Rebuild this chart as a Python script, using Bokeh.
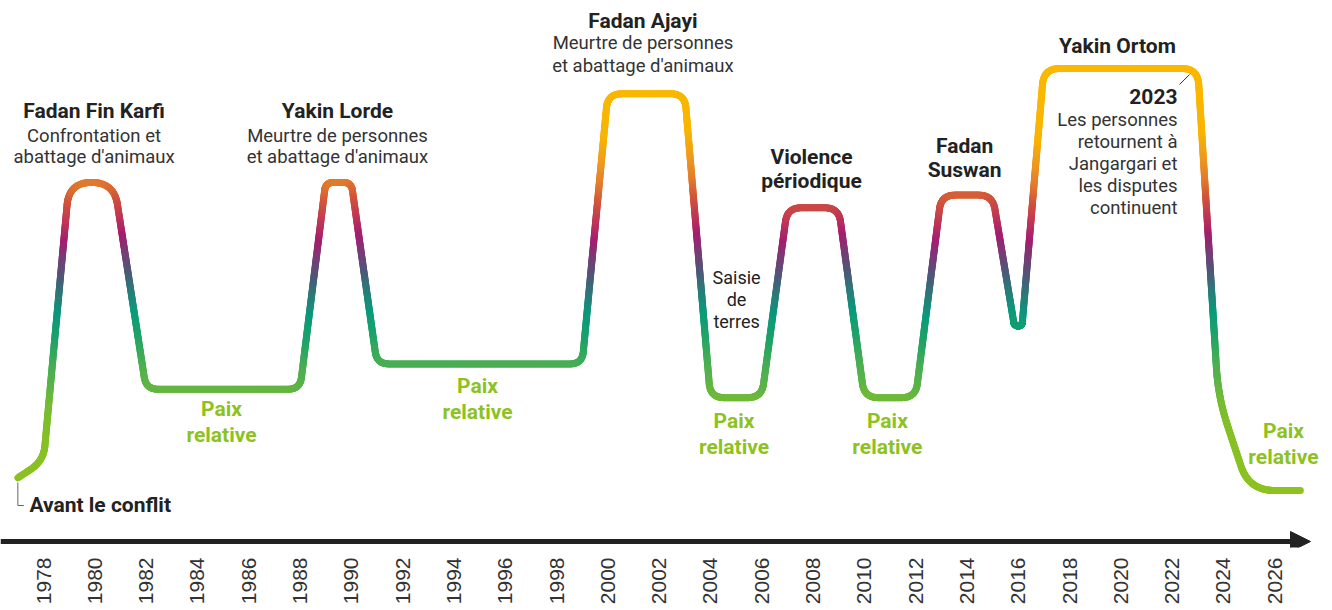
import numpy as np
from bokeh.plotting import figure
from bokeh.models import FixedTicker, Arrow, NormalHead, Range1d
from bokeh.embed import file_html
from bokeh.resources import INLINE
from bokeh.core.properties import value

# ---------------- data ----------------
years = [1977, 1978, 1979, 1980.75, 1982, 1988, 1989, 1990, 1991, 1999, 2000, 2003,
         2004, 2006, 2007, 2009, 2010, 2012, 2013, 2015, 2015.85, 2016.15, 2017, 2023, 2023.8, 2025, 2027]
levels = [3, 7, 73, 73, 24, 24, 73, 73, 30, 30, 94, 94,
          22, 22, 67, 67, 22, 22, 70, 70, 39, 39, 100, 100, 22, 0, 0]
tick_years = list(range(1978, 2027, 2))

titles = ["Fadan Fin Karfi", "Yakin Lorde", "Fadan Ajayi", "Violence\npériodique",
          "Fadan\nSuswan", "Yakin Ortom"]
subtitles = ["Confrontation et\nabattage d'animaux", "Meurtre de personnes\net abattage d'animaux",
             "Meurtre de personnes\net abattage d'animaux", "", "", ""]
side_note = "Saisie\nde\nterres"
note_2023_title = "2023"
note_2023_text = "Les personnes\nretournent à\nJangargari et\nles disputes\ncontinuent"
peace_label = "Paix\nrelative"
start_label = "Avant le conflit"

# ---------------- layout / style ----------------
W, H = 1332, 610
PXY = 25.65      # px per year
PXL = 4.22       # px per level unit
FRAME_H = 547
x0 = 1978 - 43 / PXY
x1 = x0 + W / PXY
y1 = 100 + 68 / PXL
y0 = y1 - FRAME_H / PXL
AXIS_LEVEL = y0 + 6 / PXL
TEXT_SHIFT = -7

corner_r = [0, 28, 24, 24, 12, 12, 8, 8, 12, 12, 14, 14, 14, 14, 14, 14, 14, 14, 14, 14,
            5, 5, 16, 16, 30, 28, 0]

stops = [(0, "#8DC21F"), (14, "#84C025"), (21, "#74BC33"), (25, "#5DB446"), (30, "#48AE52"),
         (36, "#1FA366"), (42, "#089A7B"), (47, "#2A7A7A"), (51, "#4A5A78"), (56, "#7A3A76"),
         (60, "#A51C70"), (65, "#C23A52"), (69, "#D2543A"), (73, "#E17A2C"), (78, "#EE9820"),
         (84, "#F8B400"), (100, "#FBB800")]


def hex2rgb(h):
    h = h.lstrip("#")
    return [int(h[i:i + 2], 16) for i in (0, 2, 4)]


stop_lv = np.array([s[0] for s in stops], float)
stop_rgb = np.array([hex2rgb(s[1]) for s in stops], float)


def color_at(lv):
    r, g, b = (np.interp(lv, stop_lv, stop_rgb[:, k]) for k in range(3))
    return "#%02x%02x%02x" % (int(round(r)), int(round(g)), int(round(b)))


# rounded path in isotropic pixel space
P = np.column_stack([np.array(years, float) * PXY, np.array(levels, float) * PXL])
pts = [P[0]]
for i in range(1, len(P) - 1):
    a, b, c = P[i - 1], P[i], P[i + 1]
    d1 = np.linalg.norm(b - a)
    d2 = np.linalg.norm(c - b)
    r = min(corner_r[i], d1 / 2, d2 / 2)
    p0 = b + (a - b) / d1 * r
    p2 = b + (c - b) / d2 * r
    t = np.linspace(0, 1, 20)[:, None]
    q = (1 - t) ** 2 * p0 + 2 * (1 - t) * t * b + t ** 2 * p2
    pts.extend(list(q))
pts.append(P[-1])
pts = np.array(pts)
fine = [pts[0]]
for i in range(1, len(pts)):
    a, b = pts[i - 1], pts[i]
    d = np.linalg.norm(b - a)
    n = max(1, int(np.ceil(d / 2.0)))
    for k in range(1, n + 1):
        fine.append(a + (b - a) * k / n)
fine = np.array(fine)
fx = fine[:, 0] / PXY
fy = fine[:, 1] / PXL
sx0, sx1 = fx[:-1], fx[1:]
sy0, sy1 = fy[:-1], fy[1:]
scol = [color_at((u + v) / 2) for u, v in zip(sy0, sy1)]

p = figure(width=W, height=H, output_backend="svg", toolbar_location=None,
           x_range=Range1d(x0, x1), y_range=Range1d(y0, y1), y_axis_location=None,
           min_border_left=0, min_border_right=0, min_border_top=0, min_border_bottom=H - FRAME_H,
           background_fill_color="white", border_fill_color="white", outline_line_color=None)
p.xgrid.visible = False
p.ygrid.visible = False

ax = p.xaxis[0]
ax.ticker = FixedTicker(ticks=tick_years)
ax.axis_line_color = None
ax.major_tick_line_color = None
ax.minor_tick_line_color = None
ax.major_tick_out = 0
ax.major_tick_in = 0
ax.minor_tick_out = 0
ax.major_label_orientation = np.pi / 2
ax.major_label_standoff = 10
ax.major_label_text_font = "Liberation Sans"
ax.major_label_text_font_size = "21px"
ax.major_label_text_color = "#333333"

# timeline arrow
p.add_layout(Arrow(end=NormalHead(size=20, fill_color="#222222", line_color="#222222"),
                   x_start=x0, y_start=AXIS_LEVEL, x_end=1978 + 1267 / PXY, y_end=AXIS_LEVEL,
                   line_width=5, line_color="#222222"))

# gradient curve
p.segment(x0=sx0, y0=sy0, x1=sx1, y1=sy1, line_color=scol, line_width=7, line_cap="round")

# ---------------- texts ----------------
T = dict(x=[], y=[], text=[], size=[], style=[], color=[], align=[], yoff=[])


def block(x, y, txt, size, style, color, align="center", spacing=22):
    for i, line in enumerate(txt.split("\n")):
        T["x"].append(x); T["y"].append(y); T["text"].append(line)
        T["size"].append(size); T["style"].append(style); T["color"].append(color)
        T["align"].append(align); T["yoff"].append(i * spacing + TEXT_SHIFT)


def lv(ypage):
    return (490 - ypage) / PXL


title_pos = [(1979.97, 117), (1989.46, 117), (2001.37, 27), (2007.94, 163), (2013.91, 152), (2019.87, 52)]
sub_pos = [(1979.97, 142, 21), (1989.46, 142, 21), (2001.37, 49, 23)]
for i, t in enumerate(titles):
    xx, yy = title_pos[i]
    block(xx, lv(yy), t, "21px", "bold", "#222222", spacing=24)
for i in range(3):
    xx, yy, sp = sub_pos[i]
    block(xx, lv(yy), subtitles[i], "18.5px", "normal", "#333333", spacing=sp)

block(2005.02, lv(284), side_note, "18px", "normal", "#222222", spacing=22)
block(2022.21, lv(103), note_2023_title, "21px", "bold", "#222222", align="right")
block(2022.21, lv(126), note_2023_text, "18.5px", "normal", "#333333", align="right", spacing=22)

peace_pos = [(1984.94, 415), (1994.92, 392), (2004.92, 427), (2010.9, 427), (2026.34, 437)]
for xx, yy in peace_pos:
    block(xx, lv(yy), peace_label, "21px", "bold", "#8DC21F", spacing=26)

block(1977.45, lv(511), start_label, "21px", "bold", "#222222", align="left")

for st in ["bold", "normal"]:
    for al in ["center", "left", "right"]:
        idx = [i for i in range(len(T["x"])) if T["style"][i] == st and T["align"][i] == al]
        if not idx:
            continue
        p.text(x=[T["x"][i] for i in idx], y=[T["y"][i] for i in idx],
               text=[T["text"][i] for i in idx], y_offset=[T["yoff"][i] for i in idx],
               text_font_size=[T["size"][i] for i in idx], text_color=[T["color"][i] for i in idx],
               text_font=value("Roboto"), text_font_style=st, text_align=al,
               text_baseline="alphabetic")

# leader lines
sx = years[0]
p.line(x=[sx, sx, sx + 6 / PXY], y=[lv(482), lv(505), lv(505)], line_color="#666666", line_width=1)
p.line(x=[2022.29, 2022.68], y=[lv(84), lv(74)], line_color="#333333", line_width=1)

open("out.html", "w").write(file_html(p, INLINE))
